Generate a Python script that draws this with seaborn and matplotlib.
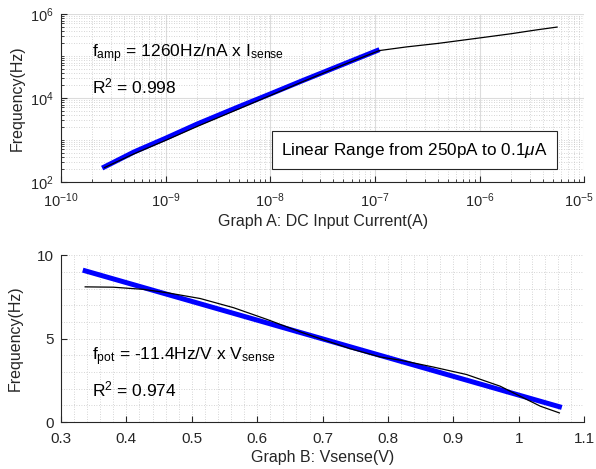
import numpy as np
import pandas as pd
import matplotlib
matplotlib.use("Agg")
import matplotlib.pyplot as plt
import matplotlib.ticker as mticker
import matplotlib.transforms as mtrans
import seaborn as sns

### Data read off the reference
# Graph A: DC input current (A) vs frequency (Hz)
meas_current = [2.6e-10, 5e-10, 1e-9, 2e-9, 5e-9, 1e-8, 2e-8, 5e-8, 1.1e-7,
                2e-7, 4e-7, 1e-6, 2e-6, 3.5e-6, 5.5e-6]
meas_freq_a = [220, 470, 980, 2100, 5500, 11500, 24000, 62000, 135000,
               165000, 200000, 270000, 340000, 420000, 490000]
fit_current = [2.6e-10, 5e-10, 1e-9, 2e-9, 5e-9, 1e-8, 2e-8, 5e-8, 1.05e-7]
fit_freq_a = [228, 520, 1100, 2400, 6200, 12500, 25500, 64000, 135000]

# Graph B: Vsense (V) vs frequency (Hz)
meas_vsense = [0.337, 0.38, 0.426, 0.462, 0.513, 0.564, 0.615, 0.666, 0.70,
               0.742, 0.788, 0.82, 0.869, 0.92, 0.9715, 1.002, 1.033, 1.062]
meas_freq_b = [8.10, 8.08, 7.95, 7.75, 7.4, 6.85, 6.15, 5.4, 4.95,
               4.4, 3.9, 3.7, 3.3, 2.85, 2.15, 1.55, 0.95, 0.55]
fit_vsense = [0.337, 1.062]
fit_freq_b = [9.06, 0.92]

dark = "#262626"
plt.rcParams["font.family"] = ["Liberation Sans", "DejaVu Sans"]
plt.rcParams["mathtext.fontset"] = "custom"
plt.rcParams["mathtext.rm"] = "Liberation Sans"
plt.rcParams["mathtext.it"] = "Liberation Sans:italic"
plt.rcParams["mathtext.default"] = "rm"

fig = plt.figure(figsize=(5.96, 4.69), dpi=100)
ax1 = fig.add_axes([0.1023, 0.612, 0.878, 0.358])
ax2 = fig.add_axes([0.1023, 0.100, 0.878, 0.356])


def style_axes(ax, size=11):
    for s in ["top", "right"]:
        ax.spines[s].set_visible(False)
    for s in ["left", "bottom"]:
        ax.spines[s].set_color(dark)
        ax.spines[s].set_linewidth(0.8)
    ax.tick_params(which="both", direction="in", colors=dark, labelsize=size,
                   labelcolor=dark)
    ax.tick_params(which="major", length=4)
    ax.tick_params(which="minor", length=2)
    ax.tick_params(axis="x", which="both", pad=7)
    ax.tick_params(axis="y", which="both", pad=5)


### Graph A
ax1.set_xscale("log")
ax1.set_yscale("log")
df_a = pd.DataFrame({"I": meas_current, "f": meas_freq_a})
fit_a = pd.DataFrame({"I": fit_current, "f": fit_freq_a})
sns.lineplot(data=df_a, x="I", y="f", ax=ax1, color="black", lw=0.9, sort=False, zorder=3)
sns.lineplot(data=fit_a, x="I", y="f", ax=ax1, color="#0000ff", lw=3.6, sort=False, zorder=2)
ax1.set_xlim(1e-10, 1e-5)
ax1.set_ylim(1e2, 1e6)
ax1.xaxis.set_major_locator(mticker.FixedLocator([1e-10, 1e-9, 1e-8, 1e-7, 1e-6, 1e-5]))
ax1.xaxis.set_minor_locator(mticker.LogLocator(base=10, subs=np.arange(2, 10), numticks=20))
ax1.yaxis.set_major_locator(mticker.FixedLocator([1e2, 1e4, 1e6]))
ax1.yaxis.set_minor_locator(mticker.LogLocator(base=10, subs=np.arange(1, 10), numticks=20))
ax1.yaxis.set_minor_formatter(mticker.NullFormatter())
ax1.xaxis.set_minor_formatter(mticker.NullFormatter())
ax1.grid(which="major", color="#dcdcdc", lw=0.8, ls="-")
ax1.grid(which="minor", color="#c8c8c8", lw=0.6, ls=(0, (1, 2)))
ax1.set_axisbelow(True)
style_axes(ax1, size=10.5)
ax1.set_xlabel("Graph A: DC Input Current(A)", fontsize=11.5, color=dark, labelpad=3)
ax1.set_ylabel("Frequency(Hz)", fontsize=11.5, color=dark, labelpad=4)
ax1.text(0.0587, 0.744, r"f$_{\rm amp}$ = 1260Hz/nA x I$_{\rm sense}$",
         transform=ax1.transAxes, fontsize=12.5, va="baseline", color="black")
ax1.text(0.0587, 0.526, r"R$^2$ = 0.998",
         transform=ax1.transAxes, fontsize=12.5, va="baseline", color="black")
ax1.text(0.676, 0.19, r"Linear Range from 250pA to 0.1$\mathit{\mu}$A",
         transform=ax1.transAxes, fontsize=12.3, ha="center", va="center", color="black",
         bbox=dict(boxstyle="square,pad=0.55", fc="white", ec=dark, lw=0.8))

# keep the last decade label inside the figure edge
last = ax1.get_xticklabels()[-1]
last.set_transform(last.get_transform() + mtrans.ScaledTranslation(-5 / 100, 0, fig.dpi_scale_trans))

### Graph B
df_b = pd.DataFrame({"V": meas_vsense, "f": meas_freq_b})
fit_b = pd.DataFrame({"V": fit_vsense, "f": fit_freq_b})
sns.lineplot(data=df_b, x="V", y="f", ax=ax2, color="black", lw=0.9, sort=False, zorder=3)
sns.lineplot(data=fit_b, x="V", y="f", ax=ax2, color="#0000ff", lw=3.6, sort=False, zorder=2)
ax2.set_xlim(0.3, 1.1)
ax2.set_ylim(0, 10)
ax2.xaxis.set_major_locator(mticker.MultipleLocator(0.1))
ax2.xaxis.set_major_formatter(mticker.FormatStrFormatter("%g"))
ax2.xaxis.set_minor_locator(mticker.MultipleLocator(0.02))
ax2.yaxis.set_major_locator(mticker.MultipleLocator(5))
ax2.yaxis.set_minor_locator(mticker.MultipleLocator(1))
ax2.grid(which="both", color="#c8c8c8", lw=0.6, ls=(0, (1, 2)))
ax2.set_axisbelow(True)
style_axes(ax2)
ax2.tick_params(which="minor", length=0)
ax2.set_xlabel("Graph B: Vsense(V)", fontsize=11.5, color=dark, labelpad=3)
ax2.set_ylabel("Frequency(Hz)", fontsize=11.5, color=dark, labelpad=10)
ax2.text(0.0587, 0.371, r"f$_{\rm pot}$ = -11.4Hz/V x V$_{\rm sense}$",
         transform=ax2.transAxes, fontsize=12.5, va="baseline", color="black")
ax2.text(0.0587, 0.151, r"R$^2$ = 0.974",
         transform=ax2.transAxes, fontsize=12.5, va="baseline", color="black")

fig.savefig("out.png", dpi=100)
